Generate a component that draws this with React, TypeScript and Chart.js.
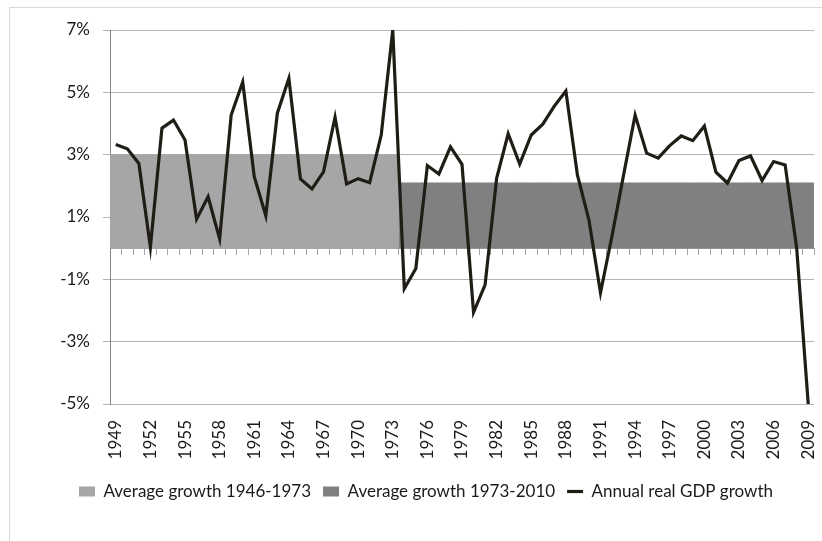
import { useEffect, useRef } from 'react';
import { Chart, registerables } from 'chart.js';

Chart.register(...registerables);

const years = [
  '1949', '1950', '1951', '1952', '1953', '1954', '1955', '1956', '1957', '1958',
  '1959', '1960', '1961', '1962', '1963', '1964', '1965', '1966', '1967', '1968',
  '1969', '1970', '1971', '1972', '1973', '1974', '1975', '1976', '1977', '1978',
  '1979', '1980', '1981', '1982', '1983', '1984', '1985', '1986', '1987', '1988',
  '1989', '1990', '1991', '1992', '1993', '1994', '1995', '1996', '1997', '1998',
  '1999', '2000', '2001', '2002', '2003', '2004', '2005', '2006', '2007', '2008',
  '2009',
];

const annualGrowth = [
  3.33, 3.19, 2.72, 0.03, 3.85, 4.11, 3.47, 0.93, 1.65, 0.30,
  4.27, 5.33, 2.29, 1.04, 4.33, 5.45, 2.22, 1.90, 2.45, 4.20,
  2.06, 2.23, 2.10, 3.63, 7.00, -1.30, -0.65, 2.65, 2.38, 3.25,
  2.69, -2.06, -1.18, 2.24, 3.67, 2.70, 3.63, 3.98, 4.56, 5.04,
  2.35, 0.90, -1.43, 0.40, 2.35, 4.27, 3.05, 2.89, 3.29, 3.60,
  3.45, 3.92, 2.44, 2.09, 2.81, 2.96, 2.17, 2.78, 2.67, 0.00,
  -5.00,
];

const avgGrowth1946to1973 = [
  3.0, 3.0, 3.0, 3.0, 3.0, 3.0, 3.0, 3.0, 3.0, 3.0,
  3.0, 3.0, 3.0, 3.0, 3.0, 3.0, 3.0, 3.0, 3.0, 3.0,
  3.0, 3.0, 3.0, 3.0, 3.0, null, null, null, null, null,
  null, null, null, null, null, null, null, null, null, null,
  null, null, null, null, null, null, null, null, null, null,
  null, null, null, null, null, null, null, null, null, null,
  null,
];

const avgGrowth1973to2010 = [
  null, null, null, null, null, null, null, null, null, null,
  null, null, null, null, null, null, null, null, null, null,
  null, null, null, null, null, 2.1, 2.1, 2.1, 2.1, 2.1,
  2.1, 2.1, 2.1, 2.1, 2.1, 2.1, 2.1, 2.1, 2.1, 2.1,
  2.1, 2.1, 2.1, 2.1, 2.1, 2.1, 2.1, 2.1, 2.1, 2.1,
  2.1, 2.1, 2.1, 2.1, 2.1, 2.1, 2.1, 2.1, 2.1, 2.1,
  2.1,
];

const seriesLabels = ['Average growth 1946-1973', 'Average growth 1973-2010', 'Annual real GDP growth'];

export default function App() {
  const ref = useRef<HTMLCanvasElement>(null);

  useEffect(() => {
    const family = "Lato, 'Noto Sans', sans-serif";
    const textColor = '#1a1a1a';
    const chart = new Chart(ref.current as HTMLCanvasElement, {
      type: 'bar',
      data: {
        labels: years,
        datasets: [
          {
            type: 'bar',
            label: seriesLabels[0],
            data: avgGrowth1946to1973,
            backgroundColor: '#a6a6a6',
            borderWidth: 0,
            grouped: false,
            barPercentage: 1,
            categoryPercentage: 1,
            pointStyle: 'rect',
            order: 1,
          } as any,
          {
            type: 'bar',
            label: seriesLabels[1],
            data: avgGrowth1973to2010,
            backgroundColor: '#808080',
            borderWidth: 0,
            grouped: false,
            barPercentage: 1,
            categoryPercentage: 1,
            pointStyle: 'rect',
            order: 1,
          } as any,
          {
            type: 'line',
            label: seriesLabels[2],
            data: annualGrowth,
            borderColor: '#1f1d16',
            backgroundColor: '#1f1d16',
            borderWidth: 3.2,
            pointRadius: 0,
            tension: 0,
            pointStyle: 'line',
            order: 0,
          } as any,
        ],
      },
      options: {
        responsive: false,
        animation: false,
        layout: { padding: { left: 38, right: 8, top: 30, bottom: 31 } },
        plugins: {
          legend: {
            position: 'bottom',
            align: 'center',
            labels: {
              usePointStyle: true,
              pointStyleWidth: 16,
              boxHeight: 10,
              padding: 12,
              color: textColor,
              font: { family, size: 17 },
              sort: (a: any, b: any) => a.datasetIndex - b.datasetIndex,
            },
          },
          tooltip: { enabled: false },
        },
        scales: {
          x: {
            type: 'category',
            offset: true,
            grid: { display: false },
            border: { display: false },
            ticks: {
              autoSkip: false,
              maxRotation: 90,
              minRotation: 90,
              padding: 8,
              color: textColor,
              font: { family, size: 17 },
              callback: (_v: any, i: number) => (i % 3 === 0 ? years[i] : ''),
            },
            afterFit: (s: any) => {
              s.height = 67;
              s.paddingLeft = 0;
              s.paddingRight = 0;
            },
          },
          x2: {
            type: 'category',
            axis: 'x',
            position: { y: 0 },
            offset: true,
            grid: {
              display: true,
              offset: true,
              drawOnChartArea: false,
              drawTicks: true,
              tickLength: 6,
              color: '#a6a6a6',
            },
            border: { display: true, color: '#a6a6a6' },
            ticks: { display: false },
            afterFit: (s: any) => {
              s.paddingLeft = 0;
              s.paddingRight = 0;
            },
          } as any,
          y: {
            min: -5,
            max: 7,
            ticks: {
              stepSize: 2,
              padding: 13,
              color: textColor,
              font: { family, size: 17 },
              callback: (v: any) => v + '%',
            },
            grid: { color: '#b3b3b3', tickLength: 7 },
            border: { color: '#868686' },
            afterFit: (s: any) => {
              s.width = 72;
            },
          },
        },
      } as any,
    });
    return () => chart.destroy();
  }, []);

  return (
    <div style={{ position: 'absolute', left: 0, top: 0, width: 822, height: 541, overflow: 'hidden', background: '#ffffff' }}>
      <div
        style={{
          position: 'absolute',
          left: 9,
          top: 7,
          width: 900,
          height: 700,
          borderLeft: '1px solid #d9d9d9',
          borderTop: '1px solid #d9d9d9',
        }}
      />
      <canvas ref={ref} width={822} height={541} style={{ position: 'absolute', left: 0, top: 0 }} />
    </div>
  );
}
